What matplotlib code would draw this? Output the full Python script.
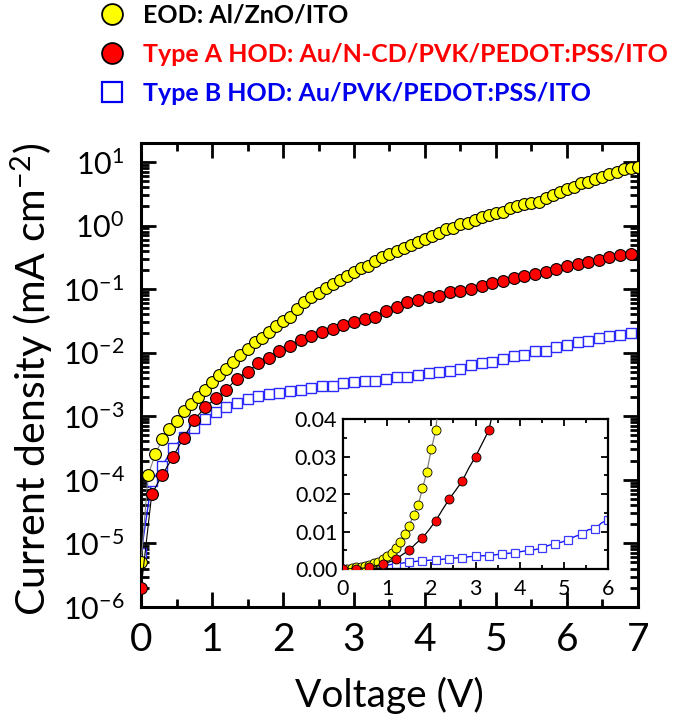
import numpy as np
import matplotlib.pyplot as plt
from matplotlib.lines import Line2D
from matplotlib.ticker import MultipleLocator, LogLocator, FuncFormatter, NullFormatter

plt.rcParams['font.family'] = ['Lato', 'DejaVu Sans']
plt.rcParams['mathtext.fontset'] = 'custom'
plt.rcParams['mathtext.rm'] = 'Lato'
plt.rcParams['mathtext.it'] = 'Lato:italic'
plt.rcParams['mathtext.bf'] = 'Lato:bold'

# voltage sweeps (V): EOD sampled every 0.1 V, HODs every 0.15 V
v_eod = np.linspace(0, 7.0, 71)
v_hod = np.linspace(0, 6.9, 47)

# current density (mA cm^-2)
j_eod = [5.0e-6, 1.2e-4, 2.5e-4, 4.4e-4, 6.2e-4, 8.5e-4, 1.2e-3, 1.55e-3, 2.0e-3, 2.6e-3,
         3.4e-3, 4.4e-3, 5.5e-3, 7.2e-3, 9.3e-3, 1.15e-2, 1.45e-2, 1.7e-2, 2.15e-2, 2.6e-2,
         3.2e-2, 3.7e-2, 4.9e-2, 6.3e-2, 7.4e-2, 8.7e-2, 0.105, 0.12, 0.138, 0.158,
         0.186, 0.214, 0.234, 0.275, 0.316, 0.355, 0.39, 0.45, 0.49, 0.55,
         0.62, 0.68, 0.75, 0.87, 0.93, 1.04, 1.11, 1.24, 1.38, 1.48,
         1.58, 1.66, 1.86, 2.0, 2.14, 2.29, 2.37, 2.75, 3.0, 3.4,
         3.8, 4.1, 4.7, 4.9, 5.4, 5.9, 6.5, 6.9, 7.8, 8.1, 8.3]

j_hod_a = [1.95e-6, 5.9e-5, 1.2e-4, 2.3e-4, 4.6e-4, 8.7e-4, 1.38e-3, 1.9e-3, 2.6e-3, 3.9e-3,
           5.0e-3, 6.8e-3, 8.3e-3, 1.05e-2, 1.29e-2, 1.58e-2, 1.86e-2, 2.1e-2, 2.35e-2, 2.7e-2,
           3.0e-2, 3.35e-2, 3.7e-2, 4.5e-2, 5.2e-2, 6.3e-2, 6.8e-2, 7.4e-2, 7.8e-2, 8.9e-2,
           9.3e-2, 0.100, 0.112, 0.123, 0.132, 0.148, 0.158, 0.170, 0.186, 0.204,
           0.229, 0.245, 0.263, 0.282, 0.316, 0.339, 0.355]

j_hod_b = [7.0e-6, 9.5e-5, 1.66e-4, 3.2e-4, 4.7e-4, 6.6e-4, 8.9e-4, 1.15e-3, 1.4e-3, 1.6e-3,
           1.86e-3, 2.05e-3, 2.2e-3, 2.35e-3, 2.45e-3, 2.6e-3, 2.8e-3, 2.95e-3, 3.0e-3, 3.3e-3,
           3.4e-3, 3.55e-3, 3.6e-3, 3.8e-3, 4.1e-3, 4.2e-3, 4.4e-3, 4.7e-3, 5.0e-3, 5.2e-3,
           5.6e-3, 6.3e-3, 6.8e-3, 7.2e-3, 7.8e-3, 8.7e-3, 9.3e-3, 1.05e-2, 1.07e-2, 1.23e-2,
           1.32e-2, 1.48e-2, 1.55e-2, 1.7e-2, 1.86e-2, 1.9e-2, 2.05e-2]

labels = ["EOD: Al/ZnO/ITO",
          "Type A HOD: Au/N-CD/PVK/PEDOT:PSS/ITO",
          "Type B HOD: Au/PVK/PEDOT:PSS/ITO"]
label_colors = ["black", "#ff0000", "#0000ee"]

fig = plt.figure(figsize=(6.75, 7.14), dpi=100)
ax = fig.add_axes([0.209, 0.150, 0.736, 0.650])

ax.plot(v_hod, j_hod_b, '-s', color='#1f1fff', lw=1.0, ms=7.5, mfc='white', mec='#2a2aff', mew=1.0, zorder=2)
ax.plot(v_eod, j_eod, '-o', color='gray', lw=0.8, ms=8.5, mfc='#ffff00', mec='black', mew=0.8, zorder=3)
ax.plot(v_hod, j_hod_a, '-o', color='black', lw=0.8, ms=8.5, mfc='#ff0000', mec='black', mew=0.8, zorder=4)

ax.set_yscale('log')
ax.set_xlim(0, 7)
ax.set_ylim(1e-6, 20)
ax.xaxis.set_major_locator(MultipleLocator(1))
ax.xaxis.set_minor_locator(MultipleLocator(0.5))
ax.yaxis.set_major_locator(LogLocator(base=10, numticks=20))
ax.yaxis.set_minor_locator(LogLocator(base=10, subs=np.arange(2, 10), numticks=20))
ax.yaxis.set_minor_formatter(NullFormatter())
ax.yaxis.set_major_formatter(FuncFormatter(lambda y, p: r'$\mathregular{10^{%d}}$' % round(np.log10(y))))

ax.tick_params(which='both', direction='in', top=True, right=True, width=2)
ax.tick_params(which='major', length=11)
ax.tick_params(which='minor', length=6)
ax.tick_params(axis='x', labelsize=28, pad=11)
ax.tick_params(axis='y', labelsize=22, pad=12)
for s in ax.spines.values():
    s.set_linewidth(2.2)

ax.set_xlabel("Voltage (V)", fontsize=28, va='center')
ax.xaxis.set_label_coords(0.5, -0.19)
ax.set_ylabel(r"Current density (mA cm$^{\mathregular{-2}}$)", fontsize=29.5, va='center')
ax.yaxis.set_label_coords(-0.219, 0.49)

# inset: same data on linear axes
ax_in = fig.add_axes([0.508, 0.203, 0.393, 0.210])
ax_in.plot(v_hod, j_hod_b, '-s', color='#1515ff', lw=1.0, ms=5.5, mfc='white', mec='#3a3aff', mew=0.9, markevery=2, zorder=2)
ax_in.plot(v_eod, j_eod, '-o', color='gray', lw=0.9, ms=6.5, mfc='#ffff00', mec='black', mew=0.6, zorder=3)
ax_in.plot(v_hod, j_hod_a, '-o', color='black', lw=0.9, ms=6.5, mfc='#ff0000', mec='black', mew=0.6, markevery=2, zorder=4)
ax_in.set_xlim(0, 6)
ax_in.set_ylim(0, 0.04)
ax_in.xaxis.set_major_locator(MultipleLocator(1))
ax_in.xaxis.set_minor_locator(MultipleLocator(0.5))
ax_in.yaxis.set_major_locator(MultipleLocator(0.01))
ax_in.yaxis.set_minor_locator(MultipleLocator(0.005))
ax_in.yaxis.set_major_formatter(FuncFormatter(lambda y, p: '%.2f' % y))
ax_in.tick_params(which='both', direction='in', top=True, right=True, width=1.3, labelsize=15.5)
ax_in.tick_params(which='major', length=5)
ax_in.tick_params(which='minor', length=3)
ax_in.tick_params(axis='x', pad=7)
ax_in.tick_params(axis='y', pad=4)
for s in ax_in.spines.values():
    s.set_linewidth(1.6)

handles = [Line2D([], [], ls='none', marker='o', ms=15, mfc='#ffff00', mec='black', mew=1.3),
           Line2D([], [], ls='none', marker='o', ms=15, mfc='#ff0000', mec='black', mew=1.3),
           Line2D([], [], ls='none', marker='s', ms=14, mfc='white', mec='#0000ee', mew=1.6)]
fig.legend(handles, labels, loc='upper left', bbox_to_anchor=(0.144, 0.998), frameon=False,
           prop=dict(family='Lato', weight='bold', size=18), labelcolor=label_colors,
           handlelength=1.0, handletextpad=0.74, labelspacing=0.64, borderpad=0.1, borderaxespad=0)

fig.savefig("out.png", dpi=100)
